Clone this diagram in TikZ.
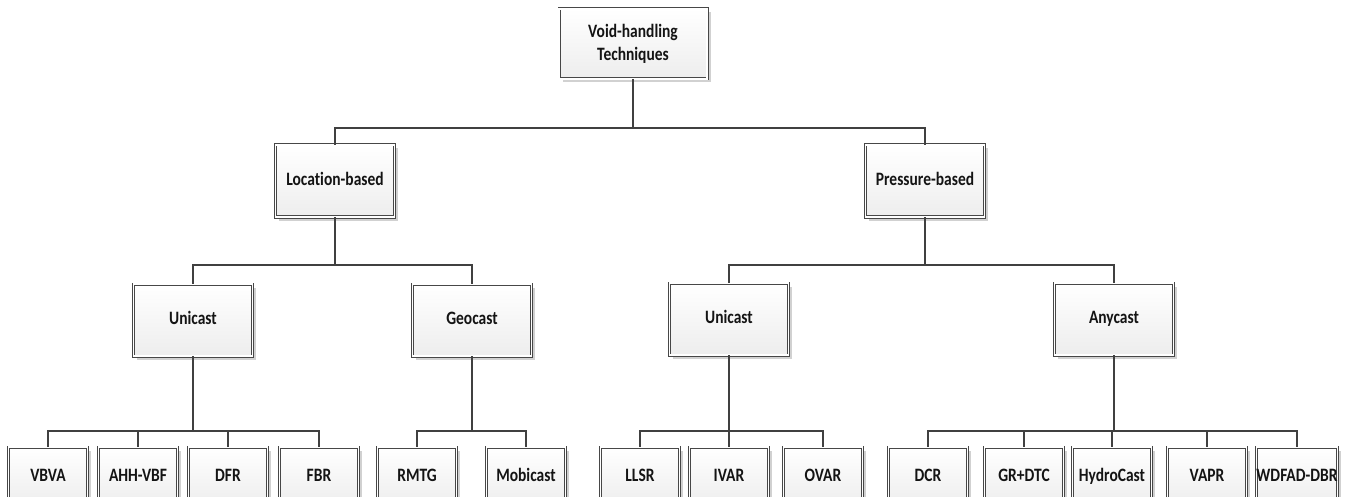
\documentclass[tikz,border=0pt]{standalone}
\usepackage{fontspec}
\setmainfont{Carlito}[Ligatures=NoCommon]
\usetikzlibrary{shadows}
% box label, set slightly taller than wide
\newcommand{\lbl}[1]{\scalebox{1}[1.22]{\begin{tabular}{@{}c@{}}#1\end{tabular}}}
\begin{document}
\begin{tikzpicture}[x=1pt,y=-1pt,
  box/.style={draw=black!72, line width=0.7pt, double=white, double distance=1.6pt,
    top color=white, bottom color=black!7, shading angle=0,
    drop shadow={shadow xshift=3.5pt, shadow yshift=-3.5pt, fill=black!18, opacity=1},
    font=\fontsize{15.5}{19}\selectfont\bfseries, text=black!92, align=center,
    inner sep=0pt},
  midbox/.style={box, minimum width=119pt, minimum height=72pt},
  leafbox/.style={box, minimum width=79pt, minimum height=60pt},
  conn/.style={draw=black!75, line width=1.4pt}]
\useasboundingbox (0,0) rectangle (1346,497);
\clip (0,0) rectangle (1346,497);

% bus rows
\coordinate (busA) at (0,128);
\coordinate (busB) at (0,265);
\coordinate (busC) at (0,431);

% root and second level
\node[box, minimum width=148pt, minimum height=70pt] (root) at (633,44) {\lbl{Void-handling\\Techniques}};
\node[midbox] (loc) at (335,181) {\lbl{Location-based}};
\node[midbox] (pres) at (925,181) {\lbl{Pressure-based}};

% third level
\node[midbox] (uniL) at (193,320) {\lbl{Unicast}};
\node[midbox] (geo) at (472,320) {\lbl{Geocast}};
\node[midbox] (uniP) at (729,319) {\lbl{Unicast}};
\node[midbox] (any) at (1114,319) {\lbl{Anycast}};

% leaves
\node[leafbox] (vbva) at (48,477) {\lbl{VBVA}};
\node[leafbox] (ahh) at (138,477) {\lbl{AHH-VBF}};
\node[leafbox] (dfr) at (228,477) {\lbl{DFR}};
\node[leafbox] (fbr) at (319,477) {\lbl{FBR}};
\node[leafbox] (rmtg) at (417,477) {\lbl{RMTG}};
\node[leafbox] (mobi) at (526,477) {\lbl{Mobicast}};
\node[leafbox] (llsr) at (640,477) {\lbl{LLSR}};
\node[leafbox] (ivar) at (729,477) {\lbl{IVAR}};
\node[leafbox] (ovar) at (823,477) {\lbl{OVAR}};
\node[leafbox] (dcr) at (928,477) {\lbl{DCR}};
\node[leafbox] (grdtc) at (1024,477) {\lbl{GR+DTC}};
\node[leafbox] (hydro) at (1112,477) {\lbl{HydroCast}};
\node[leafbox] (vapr) at (1207,477) {\lbl{VAPR}};
\node[leafbox] (wdfad) at (1297,477) {\lbl{WDFAD-DBR}};

% connectors
\foreach \p/\b/\c in {root/busA/loc, root/busA/pres,
    loc/busB/uniL, loc/busB/geo, pres/busB/uniP, pres/busB/any,
    uniL/busC/vbva, uniL/busC/ahh, uniL/busC/dfr, uniL/busC/fbr,
    geo/busC/rmtg, geo/busC/mobi,
    uniP/busC/llsr, uniP/busC/ivar, uniP/busC/ovar,
    any/busC/dcr, any/busC/grdtc, any/busC/hydro, any/busC/vapr, any/busC/wdfad}
  \draw[conn] (\p.south) -- (\p.south |- \b) -| (\c.north);
\end{tikzpicture}
\end{document}
